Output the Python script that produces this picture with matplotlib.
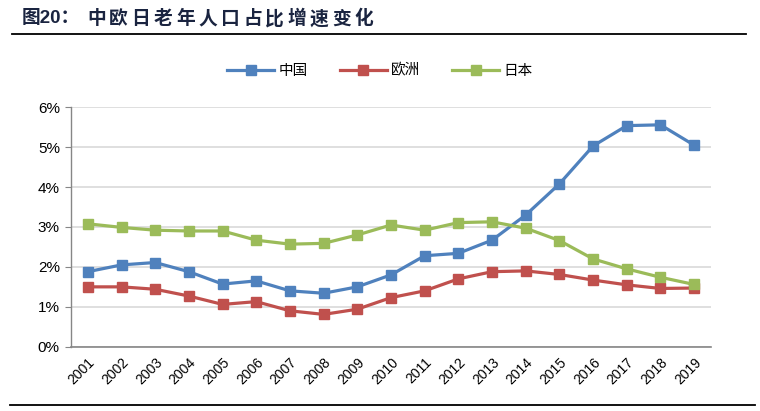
import matplotlib.pyplot as plt
from matplotlib.lines import Line2D
from matplotlib.ticker import FuncFormatter

plt.rcParams["font.family"] = ["Liberation Sans", "Noto Sans CJK SC", "DejaVu Sans"]

# --- Data (% ) ---
years = [str(y) for y in range(2001, 2020)]
china = [1.88, 2.05, 2.11, 1.88, 1.57, 1.65, 1.40, 1.34, 1.50, 1.80,
         2.28, 2.34, 2.67, 3.30, 4.08, 5.03, 5.54, 5.56, 5.05]
europe = [1.50, 1.50, 1.44, 1.27, 1.06, 1.13, 0.90, 0.81, 0.94, 1.23,
          1.40, 1.70, 1.88, 1.90, 1.81, 1.67, 1.55, 1.46, 1.47]
japan = [3.08, 2.99, 2.92, 2.90, 2.90, 2.67, 2.57, 2.59, 2.80, 3.05,
         2.92, 3.11, 3.13, 2.97, 2.66, 2.20, 1.95, 1.74, 1.56]
series_names = ["中国", "欧洲", "日本"]
colors = ["#4F81BD", "#C0504D", "#9BBB59"]
title_prefix = "图20："
title_body = "中欧日老年人口占比增速变化"

W, H = 760, 411
fig = plt.figure(figsize=(W / 100, H / 100), dpi=100)
ax = fig.add_axes([0.0934, 0.1564, 0.8421, 0.5826])

x = list(range(len(years)))
for vals, name, c in zip([china, europe, japan], series_names, colors):
    ax.plot(x, vals, color=c, linewidth=2.3, marker="s", markersize=7.5,
            markeredgecolor=c, label=name, zorder=3)

ax.set_xlim(-0.5, len(years) - 0.5)
ax.set_ylim(0, 6)
ax.set_yticks(range(0, 7))
ax.yaxis.set_major_formatter(FuncFormatter(lambda v, p: f"{v:.0f}%"))
ax.set_xticks(x)
ax.set_xticklabels(years, rotation=45, ha="right", rotation_mode="anchor",
                   fontsize=10)
ax.tick_params(axis="y", labelsize=11, length=4, color="#868686", pad=4)
ax.tick_params(axis="x", length=0, pad=6)

ax.grid(axis="y", color="#D9D9D9", linewidth=1.2, zorder=0)
ax.set_axisbelow(True)
for s in ["top", "right"]:
    ax.spines[s].set_visible(False)
ax.spines["left"].set_color("#868686")
ax.spines["bottom"].set_color("#868686")
ax.spines["left"].set_linewidth(1.0)
ax.spines["bottom"].set_linewidth(1.2)

fig.legend(loc="center", bbox_to_anchor=(0.5, 0.828), ncol=3,
           frameon=False, handlelength=3.2, columnspacing=2.2,
           handletextpad=0.3,
           prop={"family": ["Noto Sans CJK SC"], "size": 10.5})

# Title (wide character spacing like the source) and rules
title_kw = dict(fontsize=13.5, fontweight="bold", color="#1A2440",
                va="center", ha="left")
fig.text(22 / W, 0.954, title_prefix,
         family=["Liberation Sans", "Noto Sans CJK SC"], **title_kw)
for i, ch in enumerate(title_body):
    fig.text((87 + i * 22.3) / W, 0.954, ch,
             family=["Noto Sans CJK SC"], **title_kw)
fig.add_artist(Line2D([0.016, 0.981], [0.917, 0.917], color="black",
                      linewidth=1.3, transform=fig.transFigure))
fig.add_artist(Line2D([0.013, 0.993], [0.015, 0.015], color="black",
                      linewidth=1.3, transform=fig.transFigure))

fig.savefig("out.png", dpi=100)
